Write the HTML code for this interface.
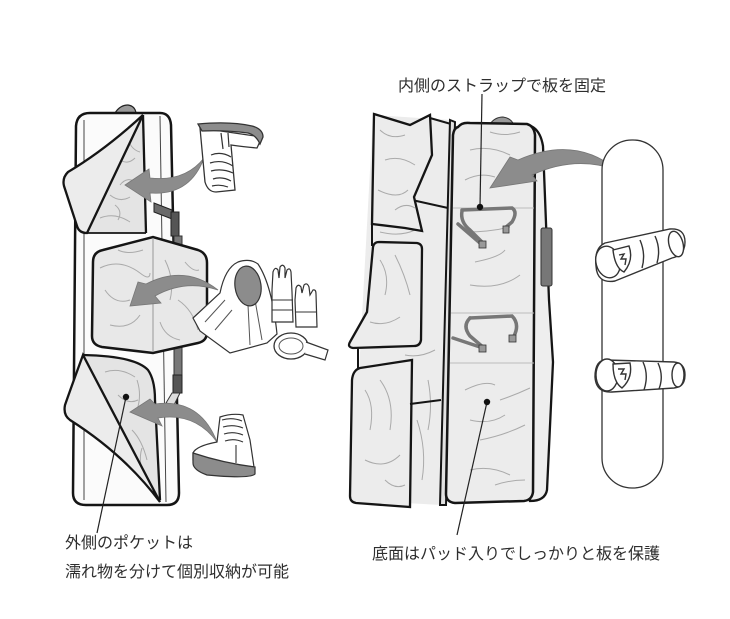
<!DOCTYPE html>
<html><head><meta charset="utf-8">
<style>
html,body{margin:0;padding:0;background:#fff;}
svg{display:block;}
text{font-family:"Liberation Sans","Noto Sans CJK JP",sans-serif;font-size:16px;fill:#2e2e2e;}
</style></head>
<body>
<svg width="730" height="619" viewBox="0 0 730 619" xmlns="http://www.w3.org/2000/svg">
<rect width="730" height="619" fill="#fff"/>

<!-- ============ LEFT BAG ============ -->
<path d="M115,113 Q120,105 128,105 Q135,106 136,113" fill="#9a9a9a" stroke="#222" stroke-width="1.2"/>
<path d="M76,126 Q77,113 90,113 L160,113 Q170,113 171,125 L179,493 Q179,505 167,505 L86,505 Q73,505 73,493 Z" fill="#fbfbfb" stroke="#151515" stroke-width="2.5"/>
<line x1="84" y1="120" x2="84" y2="500" stroke="#444" stroke-width="1"/>
<line x1="160" y1="116" x2="166" y2="502" stroke="#444" stroke-width="1"/>

<!-- strap -->
<polygon points="154,203 172,210 172,219 154,212" fill="#6a6a6a" stroke="#222" stroke-width="1"/>
<rect x="171" y="212" width="8" height="24" fill="#555" stroke="#222" stroke-width="1"/>
<rect x="174" y="236" width="8" height="140" fill="#777" stroke="#333" stroke-width="1"/>
<rect x="173" y="375" width="9" height="18" fill="#555" stroke="#222" stroke-width="1"/>
<polygon points="172,393 180,393 174,405 166,403" fill="#ddd" stroke="#333" stroke-width="1"/>

<!-- top pocket -->
<path d="M143,115 L146,233 L86,233 Z" fill="#e4e4e4"/>
<g fill="none" stroke="#aaa" stroke-width="1">
<path d="M120,160 q8,5 15,-2"/><path d="M110,195 q10,8 20,2"/><path d="M128,140 q4,10 12,12"/>
<path d="M100,218 q15,-6 30,4"/><path d="M120,185 q6,-8 14,-4"/><path d="M115,205 q8,6 3,15"/>
</g>
<path d="M143,115 Q105,150 68,172 Q62,178 64,186 L77,226 Q79,233 87,233 Z" fill="#ececec" stroke="#151515" stroke-width="2.3"/>
<line x1="143" y1="115" x2="146" y2="233" stroke="#151515" stroke-width="2.3"/>
<line x1="87" y1="233" x2="146" y2="233" stroke="#151515" stroke-width="1.8"/>

<!-- middle pocket -->
<path d="M93,262 Q93,252 103,250 L153,237 L198,250 Q207,253 207,263 L207,332 Q207,341 198,343 L153,353 L102,347 Q92,345 92,336 Z" fill="#e8e8e8" stroke="#151515" stroke-width="2.5"/>
<line x1="153" y1="238" x2="153" y2="352" stroke="#999" stroke-width="1"/>
<g fill="none" stroke="#aaa" stroke-width="1">
<path d="M100,268 q20,-10 40,5 q10,8 10,0"/><path d="M105,290 q10,15 25,10"/><path d="M165,260 q10,20 5,40"/>
<path d="M178,300 q15,10 20,30"/><path d="M110,325 q20,5 30,-10"/><path d="M160,322 q5,15 20,18"/><path d="M118,250 q10,5 25,0"/>
<path d="M185,262 q8,10 14,8"/>
</g>

<!-- bottom pocket -->
<path d="M83,355 Q135,356 148,370 Q155,380 155,400 L160,500 Z" fill="#e4e4e4"/>
<g fill="none" stroke="#aaa" stroke-width="1">
<path d="M105,372 q15,-5 30,5"/><path d="M118,395 q10,10 20,5"/><path d="M137,380 q5,15 0,30"/>
<path d="M132,430 q10,10 15,30"/><path d="M142,448 q-5,15 5,35"/>
</g>
<path d="M83,355 Q135,356 148,370 Q155,380 155,400 L160,500" fill="none" stroke="#151515" stroke-width="2.3"/>
<path d="M83,355 Q72,385 65,405 Q63,415 70,420 Q125,455 160,502 Z" fill="#ececec" stroke="#151515" stroke-width="2.3"/>

<!-- left arrows -->
<g fill="#8c8c8c" stroke="#777" stroke-width="0.8">
<path d="M204,158 Q190,196 150,193 L151,202 L125,185 L149,169 L150,178 Q185,182 204,158 Z"/>
<path d="M218,290 Q185,264 146,284 L138,282 L130,306 L161,303 L155,296 Q185,279 218,290 Z"/>
<path d="M217,442 Q200,398 155,404 L150,399 L130,412 L162,426 L158,418 Q195,412 217,442 Z"/>
</g>

<!-- top shoe -->
<path d="M200,128 L205,182 Q208,192 216,192 L235,190 L231,145 Q245,147 257,148 L262,137 Z" fill="#fff" stroke="#333" stroke-width="1.3"/>
<path d="M198,124 Q230,121 252,126 Q263,129 263,137 L260,144 Q256,135 248,133 Q225,130 202,131 Z" fill="#8c8c8c" stroke="#333" stroke-width="1.3"/>
<g fill="none" stroke="#333" stroke-width="1.2">
<path d="M211,155 q10,-4 20,2"/><path d="M210,163 q12,-4 23,3"/><path d="M211,171 q11,-3 22,2"/><path d="M213,179 q9,-3 18,2"/>
<path d="M212,186 q8,-2 16,1"/>
<path d="M221,133 l2,16"/><path d="M228,133 l1,14"/>
</g>

<!-- gear: jacket, gloves, goggles -->
<path d="M193,318 L220,293 Q225,268 238,262 Q250,258 258,264 Q272,285 277,334 L267,343 L230,353 L200,331 Z" fill="#fff" stroke="#333" stroke-width="1.2"/>
<path d="M205,322 L225,300 M215,330 L232,310 M255,300 L262,340 M248,305 L250,345" fill="none" stroke="#555" stroke-width="1"/>
<ellipse cx="248" cy="286" rx="13" ry="20" transform="rotate(-8 248 286)" fill="#8c8c8c" stroke="#333" stroke-width="1.2"/>
<path d="M272,290 L273,272 Q275,266 278,270 L279,278 L280,267 Q283,263 285,268 L285,278 L287,270 Q290,267 291,272 L292,292 L293,322 L272,322 Z" fill="#fff" stroke="#333" stroke-width="1.2"/>
<line x1="272" y1="300" x2="293" y2="300" stroke="#333"/><line x1="272" y1="310" x2="293" y2="310" stroke="#333"/>
<path d="M295,300 L296,288 Q298,283 301,287 L302,293 L304,285 Q307,282 309,287 L310,295 L313,290 Q316,289 316,294 L317,327 L296,327 Z" fill="#fff" stroke="#333" stroke-width="1.2"/>
<line x1="296" y1="312" x2="317" y2="312" stroke="#333"/>
<ellipse cx="291" cy="346" rx="17" ry="13" fill="#fff" stroke="#333" stroke-width="1.3"/>
<ellipse cx="291" cy="346" rx="12" ry="8" fill="none" stroke="#555" stroke-width="1"/>
<path d="M306,342 L328,350 L325,360 L305,354" fill="#fff" stroke="#333" stroke-width="1.2"/>

<!-- bottom shoe -->
<path d="M193,453 Q196,446 217,442 L220,417 Q232,413 243,415 L250,440 L254,467 L193,460 Z" fill="#fff" stroke="#333" stroke-width="1.2"/>
<path d="M193,453 Q223,463 255,467 L255,474 Q250,479 207,475 Q193,470 193,463 Z" fill="#8c8c8c" stroke="#333" stroke-width="1.2"/>
<g fill="none" stroke="#333" stroke-width="1.1">
<path d="M222,420 q10,-3 20,1"/><path d="M223,427 q10,-3 20,1"/><path d="M224,434 q9,-3 19,1"/><path d="M225,441 q9,-3 18,1"/>
<path d="M236,445 l0,18"/>
</g>

<!-- ============ RIGHT BAG ============ -->
<path d="M373,115 L451,120 L441,505 L352,500 Z" fill="#ececec"/>
<g fill="none" stroke="#aaa" stroke-width="1">
<path d="M415,260 q10,20 5,40"/><path d="M428,380 q5,25 0,50"/><path d="M417,420 q10,30 5,60"/><path d="M435,140 q5,20 0,40"/>
<path d="M380,232 q20,5 35,-2"/><path d="M405,355 q15,3 30,-5"/>
</g>
<path d="M430,118 L451,124 L448,208 L412,200" fill="#ececec" stroke="#151515" stroke-width="2"/>
<path d="M374,114 L410,125 L430,115 L432,155 L414,197 L422,231 L405,228 L372,224 Z" fill="#ececec" stroke="#151515" stroke-width="2.3"/>
<g fill="none" stroke="#aaa" stroke-width="1">
<path d="M380,130 q10,10 25,5"/><path d="M385,160 q15,-5 30,5"/><path d="M378,190 q20,10 30,0"/><path d="M395,210 q10,-8 20,-2"/>
</g>
<line x1="372" y1="224" x2="372" y2="246" stroke="#151515" stroke-width="2"/>
<path d="M373,247 Q374,242 379,242 L417,243 Q422,244 422,249 L421,340 Q420,346 414,346 L353,348 Q347,347 350,342 L367,312 Z" fill="#ececec" stroke="#151515" stroke-width="2.3"/>
<g fill="none" stroke="#aaa" stroke-width="1">
<path d="M380,260 q10,15 5,35"/><path d="M395,255 q10,20 15,40"/><path d="M370,322 q15,5 30,-5"/>
</g>
<line x1="358" y1="348" x2="358" y2="368" stroke="#151515" stroke-width="2"/>
<path d="M360,368 L412,360 L410,507 L356,503 Q350,502 350,496 L352,380 Q353,370 360,368 Z" fill="#ececec" stroke="#151515" stroke-width="2.3"/>
<g fill="none" stroke="#aaa" stroke-width="1">
<path d="M365,390 q10,15 5,40"/><path d="M380,380 q15,20 10,50"/><path d="M365,460 q20,10 35,-5"/><path d="M385,480 q10,10 20,5"/>
</g>
<line x1="410" y1="404" x2="441" y2="400" stroke="#151515" stroke-width="2"/>

<path d="M450,120 L455,122 L446,505 L440,505 Z" fill="#e2e2e2" stroke="#151515" stroke-width="2"/>

<path d="M528,125 Q540,128 543,146 L549,300 L553,362 L547,490 Q545,501 530,501 Z" fill="#eeeeee" stroke="#151515" stroke-width="2.3"/>
<rect x="541" y="228" width="11" height="58" rx="2" fill="#777" stroke="#333" stroke-width="1"/>
<path d="M490,124 Q495,117 503,117 Q511,118 514,125" fill="#999" stroke="#333" stroke-width="1"/>

<path d="M458,127 Q462,122 470,123 L527,124 Q534,126 535,135 L533,492 Q532,500 524,501 L455,503 Q446,502 446,494 L453,135 Q454,128 458,127 Z" fill="#ececec" stroke="#151515" stroke-width="2.5"/>
<g stroke="#bbb" stroke-width="1">
<line x1="453" y1="208" x2="534" y2="208"/><line x1="451" y1="313" x2="534" y2="313"/><line x1="450" y1="363" x2="534" y2="363"/>
</g>
<g fill="none" stroke="#aaa" stroke-width="1">
<path d="M470,150 q20,-5 40,5"/><path d="M465,180 q15,-8 30,-3"/><path d="M475,262 q25,-5 30,-12"/><path d="M470,285 q30,5 50,-10"/>
<path d="M465,390 q20,-10 30,-5"/><path d="M500,400 q15,-5 30,-12"/><path d="M470,420 q20,5 35,-5"/><path d="M480,440 q25,-5 45,-15"/>
<path d="M470,470 q20,-5 40,5"/><path d="M495,485 q15,-5 30,-5"/><path d="M465,232 q25,0 45,-5"/><path d="M490,132 q15,5 30,0"/>
</g>
<g fill="none" stroke="#777" stroke-width="3.5" stroke-linecap="round">
<path d="M462,210 L512,208 Q518,212 512,222 L505,228"/>
<path d="M462,211 Q460,222 470,230 L484,244"/>
<path d="M458,224 L480,243"/>
<path d="M470,318 L512,316 Q520,324 514,336"/>
<path d="M470,318 Q462,326 470,336 L484,348"/>
<path d="M453,338 L483,348"/>
</g>
<rect x="503" y="226" width="6" height="7" fill="#999" stroke="#333" stroke-width="0.8"/>
<rect x="479" y="241" width="7" height="7" fill="#999" stroke="#333" stroke-width="0.8"/>
<rect x="509" y="335" width="7" height="7" fill="#999" stroke="#333" stroke-width="0.8"/>
<rect x="479" y="345" width="7" height="7" fill="#999" stroke="#333" stroke-width="0.8"/>

<path d="M617,170 Q575,135 518,160 L510,157 L490,188 L537,181 L532,175 Q575,155 617,170 Z" fill="#8c8c8c" stroke="#777" stroke-width="0.8"/>

<!-- snowboard -->
<rect x="602" y="140" width="61" height="348" rx="30" fill="#fff" stroke="#333" stroke-width="1.3"/>
<g fill="#fff" stroke="#333" stroke-width="1.4">
<path d="M605,243 L670,229 Q685,228 685,242 Q685,255 672,258 L615,281 Q597,284 596,266 Q594,248 605,243 Z"/>
<ellipse cx="608" cy="262" rx="12" ry="16" transform="rotate(-15 608 262)"/>
<ellipse cx="676" cy="244" rx="7" ry="13" transform="rotate(-15 676 244)"/>
<path d="M613,250 L629,246 Q634,260 624,272 Q615,268 613,250 Z"/>
<path d="M619,255 l5,-1 l-3,5 l5,0 l-1,6" fill="none"/>
<path d="M640,240 Q646,254 642,268 M655,236 Q661,249 657,263" fill="none"/>
</g>
<g fill="#fff" stroke="#333" stroke-width="1.4">
<path d="M606,360 L674,362 Q685,363 685,375 Q685,387 674,388 L612,392 Q596,393 595,377 Q595,360 606,360 Z"/>
<ellipse cx="607" cy="375" rx="11" ry="16"/>
<ellipse cx="678" cy="375" rx="6" ry="12"/>
<path d="M613,364 L630,363 Q633,378 622,388 Q613,382 613,364 Z"/>
<path d="M618,369 l6,0 l-3,5 l5,0 l-1,6" fill="none"/>
<path d="M643,362 Q649,375 644,390 M658,363 Q664,376 659,389" fill="none"/>
</g>

<!-- ============ LABELS ============ -->
<g stroke="#222" stroke-width="1.2">
<line x1="126" y1="397" x2="97" y2="533"/>
<line x1="482" y1="94" x2="480" y2="207"/>
<line x1="487" y1="402" x2="457" y2="535"/>
</g>
<circle cx="126" cy="397" r="3.2" fill="#111"/>
<circle cx="480" cy="207" r="3.2" fill="#111"/>
<circle cx="487" cy="402" r="3.2" fill="#111"/>

<text x="398" y="91">内側のストラップで板を固定</text>
<text x="65" y="548">外側のポケットは</text>
<text x="65" y="577">濡れ物を分けて個別収納が可能</text>
<text x="372" y="559">底面はパッド入りでしっかりと板を保護</text>
</svg>
</body></html>
